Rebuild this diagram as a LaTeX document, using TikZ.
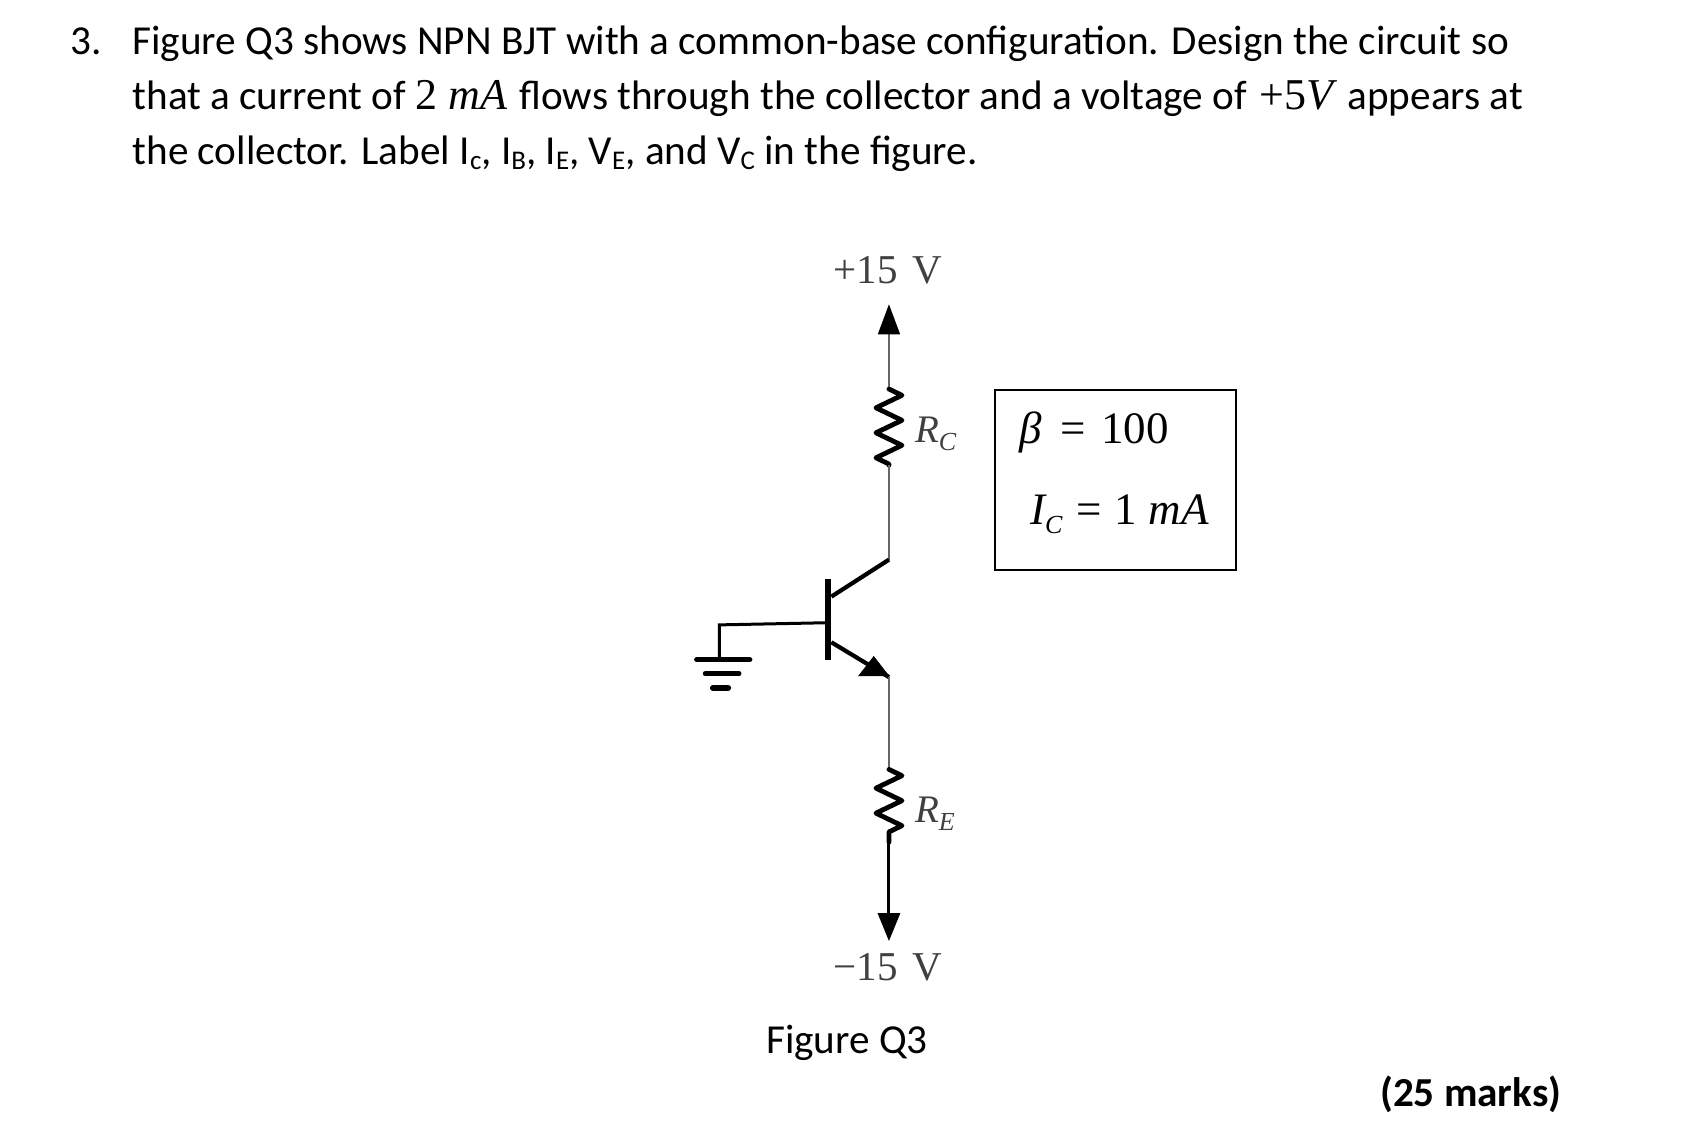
\documentclass[tikz,border=0pt]{standalone}
\usepackage{fontspec}
\setmainfont{Carlito}
\newfontfamily\mfont{Liberation Serif}
\usetikzlibrary{arrows.meta,decorations.pathmorphing}
\newcommand{\fsz}[1]{\fontsize{#1}{#1}\selectfont}
\newcommand{\sbs}[1]{\raisebox{-0.12em}{\fontsize{27}{27}\selectfont #1}}
\newcommand{\rsb}[1]{\raisebox{-0.2em}{\fontsize{26}{26}\selectfont #1}}
\tikzset{
  txt/.style={anchor=base west,inner sep=0pt,outer sep=0pt,font=\fsz{41.2}},
  eqn/.style={anchor=base west,inner sep=0pt,outer sep=0pt,font=\fsz{45}\mfont},
  cct/.style={anchor=base west,inner sep=0pt,outer sep=0pt,text=black!75,font=\fsz{41}\mfont},
  rlab/.style={anchor=base west,inner sep=0pt,outer sep=0pt,text=black!75,font=\fsz{39}\mfont\itshape},
  wire/.style={draw=black!60,line width=1.4pt},
  heavy/.style={draw=black,line width=4.2pt},
  basewire/.style={draw=black,line width=3pt},
  resistor/.style={draw=black,line width=4.8pt,line join=round,line cap=round,decorate,
    decoration={zigzag,segment length=25pt,amplitude=13pt}},
  gnd/.style={draw=black,line cap=round},
  infobox/.style={draw=black,line width=1.5pt,fill=none,inner sep=0pt,minimum width=241pt,minimum height=180pt}
}
\begin{document}
\begin{tikzpicture}[x=1.0867pt,y=-1.0867pt]
\useasboundingbox[fill=white] (0,0) rectangle (1568,1056);
% text
\node[txt] (num) at (65,50) {3.};
\node[txt] (l1) at (122,50) {Figure Q3 shows NPN BJT with a common-base configuration. Design the circuit so};
\node[txt] (l2) at (122,101) {that a current of {\fsz{44}\mfont 2 \itshape mA}\hspace{0.08em} flows through the collector and a voltage of \hspace{0.08em}{\fsz{44}\mfont +5\itshape V}\hspace{0.12em} appears at};
\node[txt] (l3) at (122,151) {the collector. Label I\sbs{c}, I\sbs{B}, I\sbs{E}, V\sbs{E}, and V\sbs{C} in the figure.};
\node[txt] (fig) at (705,969) {Figure Q3};
\node[txt,font=\fsz{41.2}\bfseries] (marks) at (1270,1018) {(25 marks)};
% supply labels
\node[cct] (vp) at (767,261) {+15\hspace{0.12em} V};
\node[cct] (vn) at (767,902) {−15\hspace{0.12em} V};
\node[rlab] (rc) at (842,407) {R\rsb{C}};
\node[rlab] (re) at (842,757) {R\rsb{E}};
% parameter box
\node[infobox,anchor=north west] (box) at (915,358) {};
\node[eqn] (beta) at (938,408) {{\itshape β}\hspace{0.42em}=\hspace{0.34em}100};
\node[eqn] (ic) at (948,483) {{\itshape I}\rsb{\itshape C}\hspace{0.3em}=\hspace{0.3em}1 {\itshape mA}};
% circuit points
\coordinate (ptop) at (818,280);
\coordinate (rct) at (818,358);
\coordinate (rcb) at (818,428);
\coordinate (cend) at (818,515);
\coordinate (cbar) at (765,549);
\coordinate (bart) at (762,533);
\coordinate (barb) at (762,607);
\coordinate (bcon) at (762,573);
\coordinate (bcor) at (662,575);
\coordinate (gtop) at (662,607);
\coordinate (ebar) at (765,591);
\coordinate (eend) at (818,623);
\coordinate (ret) at (818,708);
\coordinate (reb) at (818,775);
\coordinate (pbot) at (818,866);
% connectors
\draw[wire,-{Triangle[length=30pt,width=22pt,color=black]}] (rct) -- (ptop);
\draw[resistor] (rct) -- (rcb);
\draw[wire] (rcb) -- (cend);
\draw[heavy] (cend) -- (cbar);
\draw[draw=black,line width=5.5pt] (bart) -- (barb);
\draw[basewire] (bcon) -- (bcor) -- (gtop);
\draw[heavy] (ebar) -- (eend);
\draw[fill=black,draw=black] (790,622) -- (818,622) -- (804,604) -- cycle;
\draw[wire] (eend) -- (ret);
\draw[resistor] (ret) -- (reb);
\draw[draw=black,line width=3pt,-{Triangle[length=28pt,width=22pt]}] (reb) -- (pbot);
% ground
\draw[gnd,line width=5pt] (641,607) -- (690,607);
\draw[gnd,line width=5pt] (649,620) -- (680,620);
\draw[gnd,line width=6pt] (656,633) -- (670,633);
\end{tikzpicture}
\end{document}
